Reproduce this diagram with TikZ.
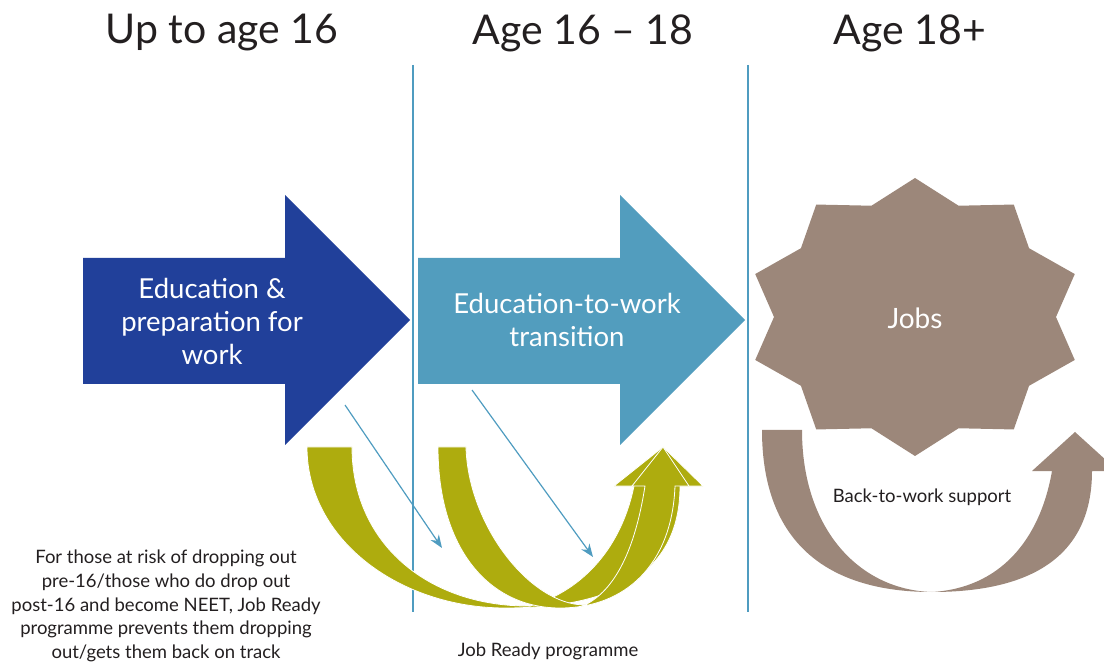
\documentclass[tikz,border=0pt]{standalone}
\usepackage{fontspec}
\setmainfont{Lato}
\usetikzlibrary{arrows.meta}

\definecolor{cNavy}{RGB}{33,64,154}
\definecolor{cTeal}{RGB}{82,157,190}
\definecolor{cOlive}{RGB}{174,172,14}
\definecolor{cTaupe}{RGB}{156,135,122}
\definecolor{cRule}{RGB}{79,156,192}
\definecolor{cInk}{RGB}{35,31,32}

\tikzset{
  heading/.style={text=cInk, font=\fontsize{41}{44}\selectfont, inner sep=0pt},
  blocklabel/.style={text=white, align=center, inner sep=0pt,
    font=\fontsize{27.5}{33}\selectfont},
  note/.style={text=cInk, align=center, inner sep=0pt,
    font=\fontsize{18.5}{23.8}\selectfont},
  divider/.style={cRule, line width=1.4pt},
  pointer/.style={cRule, line width=1.2pt, -{Stealth[length=13pt,width=10pt]}},
  curved/.style={draw=white, line width=0.8pt},
}

\begin{document}
\begin{tikzpicture}[x=1pt,y=-1pt]
\useasboundingbox (0,0) rectangle (1104,668);

% column dividers
\draw[divider] (413,65) -- (413,612);
\draw[divider] (748,65) -- (748,612);

% column headings
\node[heading] (h1) at (222,33) {Up to age 16};
\node[heading] (h2) at (583,33) {Age 16 – 18};
\node[heading] (h3) at (910,33) {Age 18+};

% stage arrows
\fill[cNavy] (83,258) -- (285,258) -- (285,195) -- (410,320) -- (285,445)
  -- (285,384) -- (83,384) -- cycle;
\node[blocklabel] (edu) at (212,321) {Education \&\\preparation for\\work};

\fill[cTeal] (418,258) -- (620,258) -- (620,195) -- (745,320) -- (620,445)
  -- (620,384) -- (418,384) -- cycle;
\node[blocklabel] (trans) at (567,320) {Education-to-work\\transition};

% ten-pointed star
\fill[cTaupe] (915,178)
  \foreach \k in {0,...,9} {
    -- ({915+141*cos(108+36*\k)},{317-117*sin(108+36*\k)})
    -- ({915+168*cos(126+36*\k)},{317-139*sin(126+36*\k)})
  } -- cycle;
\node[text=white, inner sep=0pt, font=\fontsize{28}{32}\selectfont] (jobs) at (915,318) {Jobs};

% back-to-work curved arrow
\fill[cTaupe] (762,430) .. controls (762,545) and (830,592) .. (932,592)
  .. controls (1040,592) and (1092,550) .. (1092,471)
  -- (1118,471) -- (1075,432) -- (1032,471) -- (1052,471)
  .. controls (1040,540) and (1000,588) .. (932,592)
  .. controls (860,590) and (802,530) .. (802,430) -- cycle;
\node[note] (btw) at (922,497) {Back-to-work support};

% Job Ready curved arrows
\fill[cOlive, curved] (307,447) .. controls (307,540) and (400,608) .. (505,608)
  .. controls (630,608) and (680,562) .. (680,486)
  -- (703,486) -- (663,447) -- (614,486) -- (634,486)
  .. controls (622,545) and (585,590) .. (530,606)
  .. controls (430,607) and (352,545) .. (352,447) -- cycle;
\fill[cOlive, curved] (438,447) .. controls (438,550) and (490,608) .. (560,608)
  .. controls (625,608) and (672,565) .. (675,486)
  -- (689,486) -- (663,447) -- (632,486) -- (645,486)
  .. controls (635,550) and (615,590) .. (585,605)
  .. controls (530,605) and (468,525) .. (466,447) -- cycle;

% drop-out pointers
\coordinate (s1) at (345,405);
\coordinate (e1) at (442,548);
\coordinate (s2) at (472,390);
\coordinate (e2) at (593,557);
\draw[pointer] (s1) -- (e1);
\draw[pointer] (s2) -- (e2);

% notes
\node[note] (risk) at (166,606) {For those at risk of dropping out\\pre-16/those who do drop out\\post-16 and become NEET, Job Ready\\programme prevents them dropping\\out/gets them back on track};
\node[note] (jr) at (548,651) {Job Ready programme};
\end{tikzpicture}
\end{document}
